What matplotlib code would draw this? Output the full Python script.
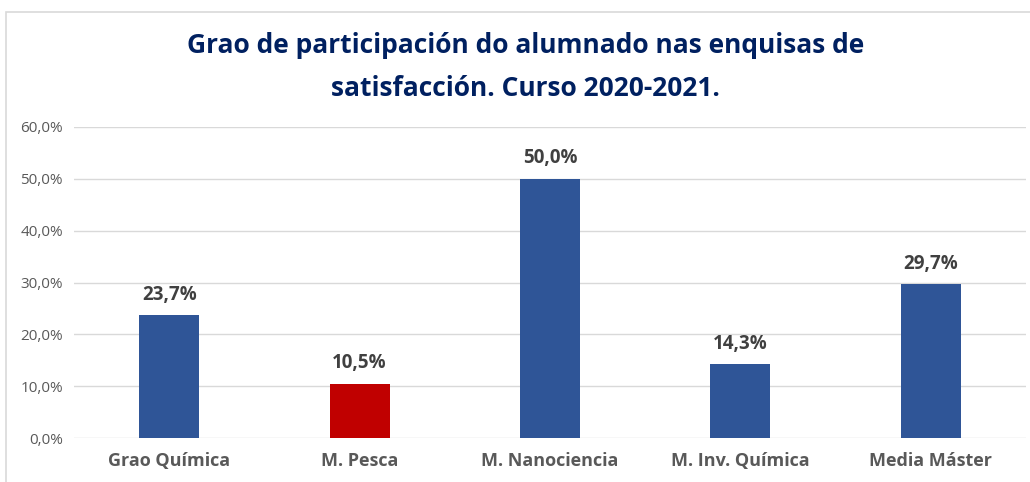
import matplotlib.pyplot as plt
from matplotlib.patches import Rectangle

# Datos
categorias = ["Grao Química", "M. Pesca", "M. Nanociencia", "M. Inv. Química", "Media Máster"]
valores = [23.7, 10.5, 50.0, 14.3, 29.7]
cores = ["#2F5597", "#C00000", "#2F5597", "#2F5597", "#2F5597"]
ticks_y = [0, 10, 20, 30, 40, 50, 60]

plt.rcParams['font.family'] = ['Open Sans', 'DejaVu Sans']

fig = plt.figure(figsize=(10.30, 4.82), dpi=100)
ax = fig.add_axes([74 / 1030, 1 - 438 / 482, (1026 - 74) / 1030, (438 - 127) / 482])

x = range(len(categorias))
ax.bar(x, valores, width=0.315, color=cores, zorder=3)

for i, v in enumerate(valores):
    ax.text(i, v + 2.0, f"{v:.1f}%".replace(".", ","), ha="center", va="bottom",
            fontsize=13.5, fontweight="bold", color="#404040")

ax.set_xlim(-0.5, len(categorias) - 0.5)
ax.set_ylim(0, 60)
ax.set_yticks(ticks_y)
ax.set_yticklabels([f"{t:.1f}%".replace(".", ",") for t in ticks_y], fontsize=11, color="#595959")
ax.set_xticks(list(x))
ax.set_xticklabels(categorias, fontsize=13, fontweight="bold", color="#595959")
ax.tick_params(axis="both", length=0)
ax.tick_params(axis="x", pad=10)
ax.tick_params(axis="y", pad=8)
ax.grid(axis="y", color="#D9D9D9", linewidth=1, zorder=0)
for s in ax.spines.values():
    s.set_visible(False)

fig.text(0.51, 1 - 67 / 482, "Grao de participación do alumnado nas enquisas de\nsatisfacción. Curso 2020-2021.",
         ha="center", va="center", fontsize=19, fontweight="bold", color="#002060", linespacing=1.75)

# marco do gráfico
fig.add_artist(Rectangle((6 / 1030, -0.1), 1.2, 1 - 12 / 482 + 0.1, transform=fig.transFigure,
                         fill=False, edgecolor="#D9D9D9", linewidth=1.2))

fig.savefig("out.png", dpi=100)
